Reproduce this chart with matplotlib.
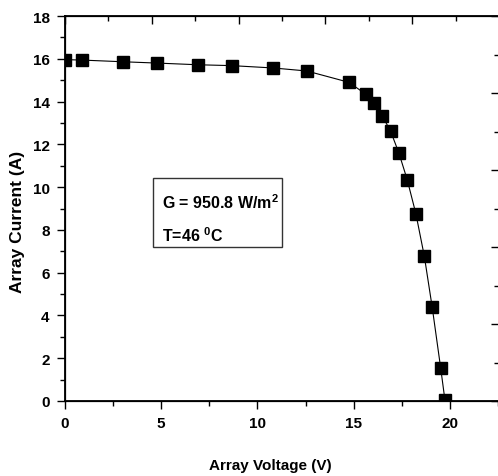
import matplotlib
matplotlib.use('Agg')
import matplotlib.pyplot as plt
from matplotlib.patches import Rectangle
from matplotlib.ticker import MultipleLocator

plt.rcParams['font.family'] = ['Liberation Sans', 'DejaVu Sans']
plt.rcParams['font.weight'] = 'bold'
plt.rcParams['mathtext.fontset'] = 'custom'
plt.rcParams['mathtext.rm'] = 'Liberation Sans:bold'
plt.rcParams['mathtext.bf'] = 'Liberation Sans:bold'

# measured I-V points of the array
voltage = [0.0, 0.87, 3.03, 4.76, 6.92, 8.66, 10.82, 12.56, 14.75, 15.62, 16.05,
           16.48, 16.92, 17.35, 17.78, 18.23, 18.67, 19.08, 19.52, 19.74]
current = [15.96, 15.94, 15.86, 15.80, 15.72, 15.68, 15.57, 15.43, 14.9, 14.35, 13.93,
           13.34, 12.61, 11.59, 10.35, 8.76, 6.77, 4.38, 1.54, 0.05]

xticks = [0, 5, 10, 15, 20]
yticks = [0, 2, 4, 6, 8, 10, 12, 14, 16, 18]

irradiance_text = r'G = 950.8 W/m$^\mathbf{2}$'
temp_text = r'T=46 $^\mathbf{0}$C'

fig = plt.figure(figsize=(4.98, 4.77), dpi=100)
ax = fig.add_axes([65 / 498, 75 / 477, 434 / 498, 385 / 477])

ax.plot(voltage, current, color='black', lw=0.8, marker='s', ms=8,
        mfc='black', mec='black')

ax.set_xlim(0, 22.55)
ax.set_ylim(0, 18)
ax.set_xticks(xticks)
ax.set_yticks(yticks)
ax.xaxis.set_minor_locator(MultipleLocator(2.5))
ax.yaxis.set_minor_locator(MultipleLocator(1))
ax.tick_params(which='major', direction='out', length=6, width=1.0,
               labelsize=11, pad=5)
ax.tick_params(which='minor', direction='out', length=3.5, width=1.0)
for lab in ax.get_xticklabels() + ax.get_yticklabels():
    lab.set_fontweight('bold')
for sp in ax.spines.values():
    sp.set_linewidth(1.3)

ax.set_xlabel('Array Voltage (V)', fontsize=11, fontweight='bold')
ax.set_ylabel('Array Current (A)', fontsize=12.5, fontweight='bold')
ax.xaxis.set_label_coords(0.472, -0.148)
ax.yaxis.set_label_coords(-0.092, 0.4675)

# extra top/right axes with their own scales (no labels)
top = ax.twiny()
top.set_xlim(0, 25)
top.xaxis.set_major_locator(MultipleLocator(5))
top.xaxis.set_minor_locator(MultipleLocator(2.5))
top.tick_params(axis='x', which='major', direction='in', length=6, width=1.0,
                labeltop=False)
top.tick_params(axis='x', which='minor', direction='in', length=3.5, width=1.0)

right = ax.twinx()
right.set_ylim(0, 5)
right.yaxis.set_major_locator(MultipleLocator(1))
right.yaxis.set_minor_locator(MultipleLocator(0.5))
right.tick_params(axis='y', which='major', direction='in', length=6, width=1.0,
                  labelright=False)
right.tick_params(axis='y', which='minor', direction='in', length=3.5, width=1.0)

# annotation box
ax.add_patch(Rectangle((4.55, 7.18), 6.73, 3.23, fill=False, ec='#333333', lw=1.0,
                       zorder=3))
ax.text(5.06, 9.32, irradiance_text, fontsize=11.5, fontweight='bold',
        va='center', ha='left')
ax.text(5.06, 7.78, temp_text, fontsize=11.5, fontweight='bold',
        va='center', ha='left')

fig.savefig('out.png', dpi=100)
